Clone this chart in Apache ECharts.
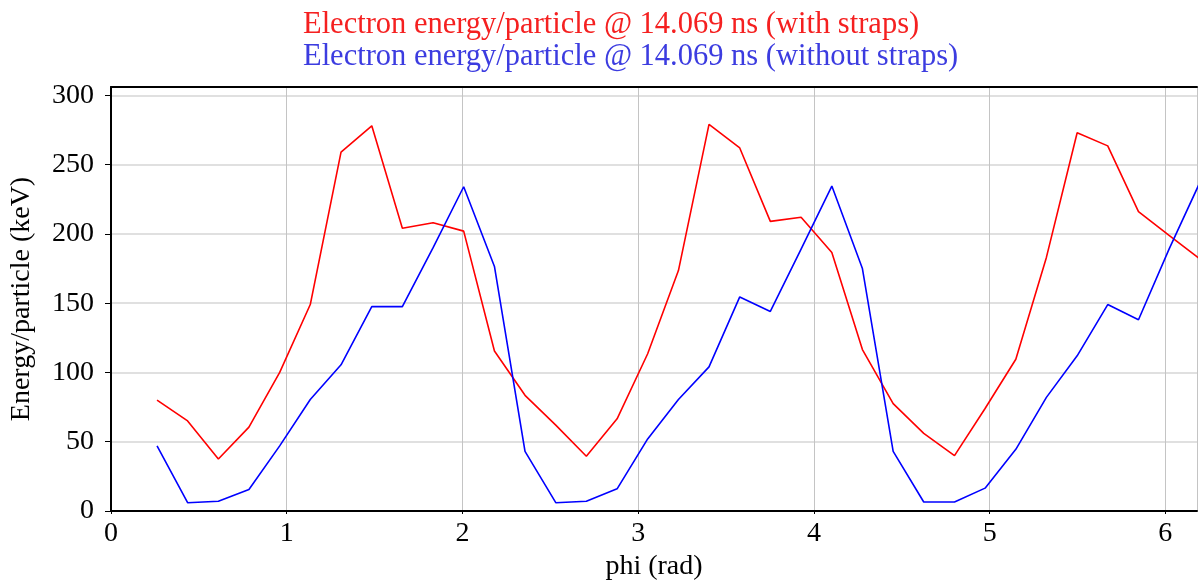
<!DOCTYPE html>
<html>
<head>
<meta charset="utf-8">
<script src="https://cdn.jsdelivr.net/npm/echarts@6/dist/echarts.min.js"></script>
<style>
html,body{margin:0;padding:0;background:#fff;}
#chart{width:1198px;height:583px;}
</style>
</head>
<body>
<div id="chart"></div>
<script>
// phi sample positions (rad)
const phi = [0.262, 0.436, 0.611, 0.785, 0.960, 1.134, 1.309, 1.484, 1.658, 1.833,
             2.007, 2.182, 2.356, 2.531, 2.705, 2.880, 3.054, 3.229, 3.403, 3.578,
             3.752, 3.927, 4.102, 4.276, 4.451, 4.625, 4.800, 4.974, 5.149, 5.323,
             5.498, 5.672, 5.847, 6.021, 6.196];
// Electron energy/particle (keV) with straps
const withStraps = [80, 65, 37.5, 60.5, 100, 149, 259, 278, 204, 208,
                    202, 115.5, 83.5, 62, 39.5, 66.5, 113.5, 173.5, 279, 262,
                    209, 212, 186.5, 116.5, 77.5, 56, 40, 74, 109.5, 183,
                    273, 263.5, 216, 199, 182];
// Electron energy/particle (keV) without straps
const withoutStraps = [47, 6, 7, 15.5, 47, 80.5, 105.5, 147.5, 147.5, 190,
                       234, 176.5, 43, 6, 7, 16, 52, 80.5, 104, 154.5,
                       144, 189, 234.5, 175, 43, 6.5, 6.5, 16.5, 44.5, 82,
                       112, 149, 138, 189, 237];
const titleLines = ['Electron energy/particle @ 14.069 ns (with straps)',
                    'Electron energy/particle @ 14.069 ns (without straps)'];
const seriesColors = ['#ff0000', '#0000ff'];
const titleColors = ['#f52020', '#3c3ce0'];

const FONT = "'Liberation Serif', 'Times New Roman', serif";
const pair = (xs, ys) => xs.map((x, i) => [x, ys[i]]);

const chart = echarts.init(document.getElementById('chart'), null, {renderer: 'canvas'});
chart.setOption({
  animation: false,
  backgroundColor: '#ffffff',
  title: [
    {text: titleLines[0], left: 298, top: 4,
     textStyle: {fontFamily: FONT, fontSize: 30.5, fontWeight: 'normal', color: titleColors[0]}},
    {text: titleLines[1], left: 298, top: 36,
     textStyle: {fontFamily: FONT, fontSize: 30.5, fontWeight: 'normal', color: titleColors[1]}}
  ],
  grid: {left: 111, right: 1, top: 87, bottom: 72, containLabel: false, outerBoundsMode: 'none'},
  xAxis: [{
    type: 'value', min: 0, max: 6.18, interval: 1,
    name: 'phi (rad)', nameLocation: 'middle', nameGap: 41,
    nameTextStyle: {fontFamily: FONT, fontSize: 28, color: '#000'},
    axisLine: {show: true, onZero: false, lineStyle: {color: '#000', width: 2}},
    axisTick: {show: true, length: 3, lineStyle: {color: '#000'}},
    axisLabel: {fontFamily: FONT, fontSize: 28, color: '#000', margin: 9,
                showMaxLabel: false,
                formatter: v => (Math.abs(v - Math.round(v)) < 1e-9 ? String(Math.round(v)) : '')},
    splitLine: {show: true, lineStyle: {color: '#c4c4c4', width: 1}}
  }, {
    type: 'value', position: 'top', min: 0, max: 6.18,
    axisLine: {show: true, onZero: false, lineStyle: {color: '#000', width: 2}},
    axisTick: {show: false}, axisLabel: {show: false}, splitLine: {show: false}
  }],
  yAxis: {
    type: 'value', min: 0, max: 306, interval: 50,
    name: 'Energy/particle (keV)', nameLocation: 'middle', nameGap: 75,
    nameTextStyle: {fontFamily: FONT, fontSize: 28, color: '#000'},
    axisLine: {show: true, onZero: false, lineStyle: {color: '#000', width: 2}},
    axisTick: {show: true, length: 6, lineStyle: {color: '#000'}},
    axisLabel: {fontFamily: FONT, fontSize: 28, color: '#000', margin: 17,
                showMaxLabel: false,
                formatter: v => (v % 50 === 0 ? String(v) : '')},
    splitLine: {show: true, lineStyle: {color: '#d6d6d6', width: 1.5}}
  },
  series: [
    {type: 'line', data: pair(phi, withStraps), showSymbol: false, clip: true,
     lineStyle: {color: seriesColors[0], width: 1.6}, itemStyle: {color: seriesColors[0]}, z: 3},
    {type: 'line', data: pair(phi, withoutStraps), showSymbol: false, clip: true,
     lineStyle: {color: seriesColors[1], width: 1.6}, itemStyle: {color: seriesColors[1]}, z: 3}
  ]
});
</script>
</body>
</html>
